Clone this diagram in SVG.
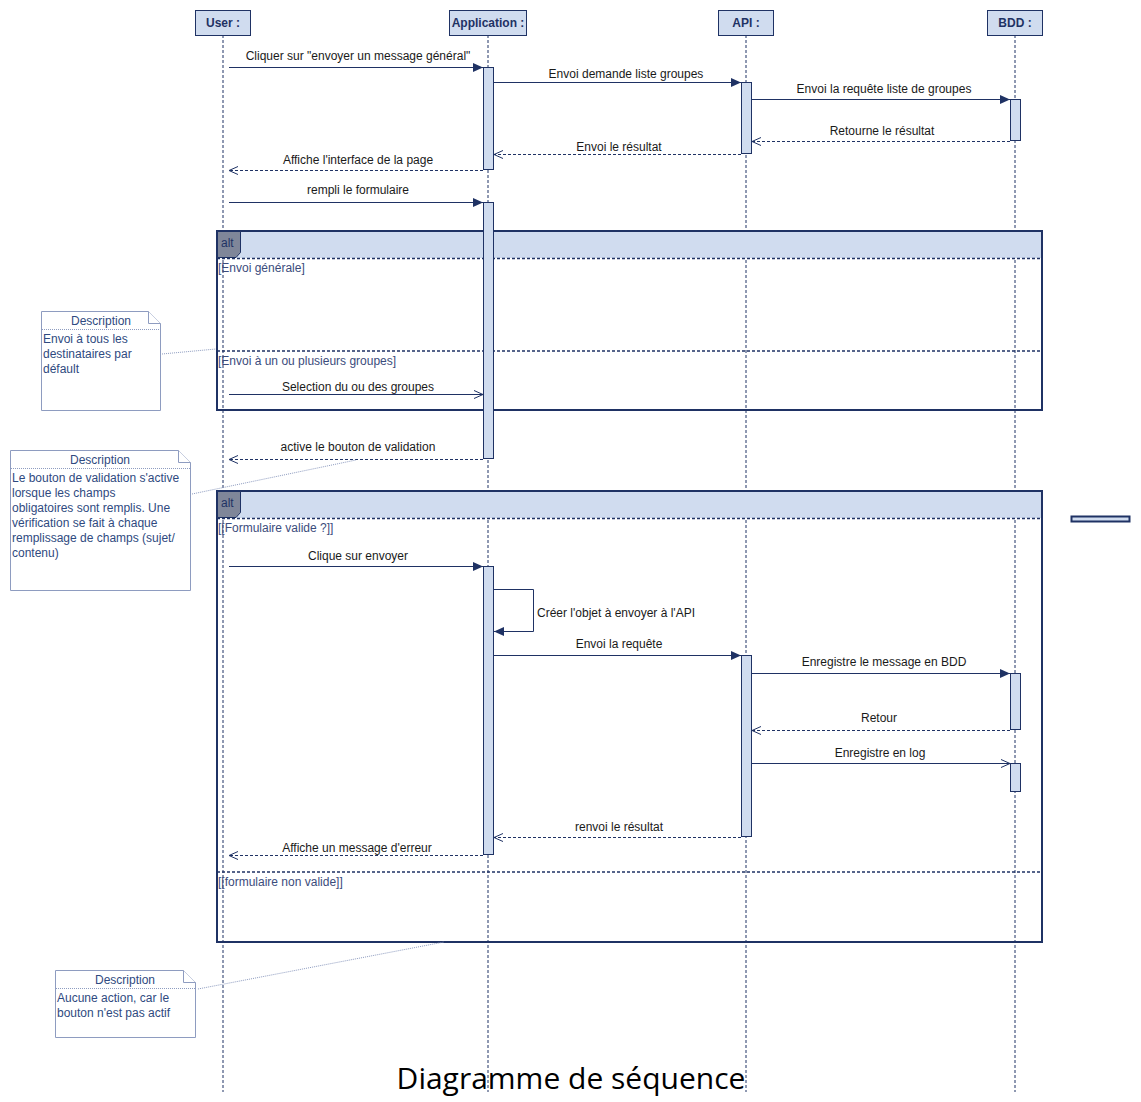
<svg xmlns="http://www.w3.org/2000/svg" width="1141" height="1102" viewBox="0 0 1141 1102">
<style>
text{font-family:"Liberation Sans",Arial,sans-serif;font-size:12px}
.head{fill:#d0dcef;stroke:#1f3264;stroke-width:1}
.hname{font-weight:bold;fill:#1f3264;text-anchor:middle}
.life{stroke:#1f3264;stroke-width:1;stroke-dasharray:3,2;fill:none}
.act{fill:#d0dcef;stroke:#1f3264;stroke-width:1}
.msg{stroke:#1f3264;stroke-width:1;fill:none}
.ret{stroke:#1f3264;stroke-width:1;fill:none;stroke-dasharray:3,2}
.lbl{fill:#1a1a1a;text-anchor:middle}
.frame{fill:none;stroke:#1f3264;stroke-width:2}
.band{fill:#d0dcef;stroke:none}
.sep{stroke:#1f3264;stroke-width:1.5;stroke-dasharray:3,2;fill:none}
.tab{fill:#7f8699;stroke:#1f3264;stroke-width:1}
.guard{fill:#3b4c7c}
.note{fill:#fff;stroke:#8e9cc0;stroke-width:1}
.ndot{stroke:#8e9cc0;stroke-width:1;stroke-dasharray:1,1;fill:none}
.ntitle{fill:#2f4a80;text-anchor:middle}
.ntext{fill:#2f4a80}
</style>
<defs>
<marker id="fill" markerUnits="userSpaceOnUse" markerWidth="11" markerHeight="9" refX="10" refY="4.5" orient="auto"><path d="M0,0 L10,4.5 L0,9 z" fill="#1f3264"/></marker>
<marker id="open" markerUnits="userSpaceOnUse" markerWidth="11" markerHeight="10" refX="10" refY="5" orient="auto"><path d="M1,1 L10,5 L1,9" fill="none" stroke="#1f3264" stroke-width="1"/></marker>
</defs>
<rect width="1141" height="1102" fill="#fff"/>

<g id="lifelines">
<line class="life" x1="223" y1="35" x2="223" y2="1092"/>
<line class="life" x1="488" y1="35" x2="488" y2="1092"/>
<line class="life" x1="746" y1="35" x2="746" y2="1092"/>
<line class="life" x1="1015" y1="35" x2="1015" y2="1092"/>
</g>

<g id="user"><rect class="head" x="195.5" y="10.5" width="55" height="25"/><text class="hname" x="223" y="27">User :</text></g>
<g id="application"><rect class="head" x="449.5" y="10.5" width="77" height="25"/><text class="hname" x="488" y="27">Application :</text></g>
<g id="api"><rect class="head" x="718.5" y="10.5" width="55" height="25"/><text class="hname" x="746" y="27">API :</text></g>
<g id="bdd"><rect class="head" x="987.5" y="10.5" width="55" height="25"/><text class="hname" x="1015" y="27">BDD :</text></g>

<g id="alt1">
<rect class="band" x="217" y="231" width="825" height="27"/>
<rect class="frame" x="217" y="231" width="825" height="179"/>
<line class="sep" x1="217" y1="258.5" x2="1042" y2="258.5"/>
<line class="sep" x1="217" y1="351" x2="1042" y2="351" stroke-width="2"/>
<path class="tab" d="M217.5,231.5 H240.5 V252.5 L236,257.5 H217.5 Z"/>
<text x="221" y="247" fill="#1f3264">alt</text>
<text class="guard" x="218" y="272">[Envoi générale]</text>
<text class="guard" x="218" y="365">[Envoi à un ou plusieurs groupes]</text>
</g>

<g id="alt2">
<rect class="band" x="217" y="491" width="825" height="27"/>
<rect class="frame" x="217" y="491" width="825" height="451"/>
<line class="sep" x1="217" y1="518.5" x2="1042" y2="518.5"/>
<line class="sep" x1="217" y1="872" x2="1042" y2="872" stroke-width="2"/>
<path class="tab" d="M217.5,491.5 H240.5 V512.5 L236,517.5 H217.5 Z"/>
<text x="221" y="507" fill="#1f3264">alt</text>
<text class="guard" x="218" y="532">[[Formulaire valide ?]]</text>
<text class="guard" x="218" y="886">[[formulaire non valide]]</text>
</g>

<g id="activations">
<rect class="act" x="483.5" y="67.5" width="10" height="102"/>
<rect class="act" x="741.5" y="82.5" width="10" height="71"/>
<rect class="act" x="1010.5" y="99.5" width="10" height="41"/>
<rect class="act" x="483.5" y="202.5" width="10" height="256"/>
<rect class="act" x="483.5" y="566.5" width="10" height="288"/>
<rect class="act" x="741.5" y="655.5" width="10" height="181"/>
<rect class="act" x="1010.5" y="673.5" width="10" height="56"/>
<rect class="act" x="1010.5" y="763.5" width="10" height="28"/>
</g>

<g id="connectors">
<line class="msg" x1="229" y1="67.5" x2="483" y2="67.5" marker-end="url(#fill)"/>
<text class="lbl" x="358" y="60">Cliquer sur "envoyer un message général"</text>
<line class="msg" x1="494" y1="82.5" x2="741" y2="82.5" marker-end="url(#fill)"/>
<text class="lbl" x="626" y="78">Envoi demande liste groupes</text>
<line class="msg" x1="752" y1="99.5" x2="1010" y2="99.5" marker-end="url(#fill)"/>
<text class="lbl" x="884" y="93">Envoi la requête liste de groupes</text>
<line class="ret" x1="1010" y1="141.5" x2="752" y2="141.5" marker-end="url(#open)"/>
<text class="lbl" x="882" y="135">Retourne le résultat</text>
<line class="ret" x1="741" y1="154.5" x2="494" y2="154.5" marker-end="url(#open)"/>
<text class="lbl" x="619" y="151">Envoi le résultat</text>
<line class="ret" x1="483" y1="170.5" x2="229" y2="170.5" marker-end="url(#open)"/>
<text class="lbl" x="358" y="164">Affiche l'interface de la page</text>
<line class="msg" x1="229" y1="202.5" x2="483" y2="202.5" marker-end="url(#fill)"/>
<text class="lbl" x="358" y="194">rempli le formulaire</text>
<line class="msg" x1="229" y1="394.5" x2="483" y2="394.5" marker-end="url(#open)"/>
<text class="lbl" x="358" y="391">Selection du ou des groupes</text>
<line class="ret" x1="483" y1="459.5" x2="229" y2="459.5" marker-end="url(#open)"/>
<text class="lbl" x="358" y="451">active le bouton de validation</text>
<line class="msg" x1="229" y1="566.5" x2="483" y2="566.5" marker-end="url(#fill)"/>
<text class="lbl" x="358" y="560">Clique sur envoyer</text>
<polyline class="msg" points="494,589.5 533.5,589.5 533.5,631.5 494,631.5" marker-end="url(#fill)"/>
<text x="537" y="617" fill="#1a1a1a">Créer l'objet à envoyer à l'API</text>
<line class="msg" x1="494" y1="655.5" x2="741" y2="655.5" marker-end="url(#fill)"/>
<text class="lbl" x="619" y="648">Envoi la requête</text>
<line class="msg" x1="752" y1="673.5" x2="1010" y2="673.5" marker-end="url(#fill)"/>
<text class="lbl" x="884" y="666">Enregistre le message en BDD</text>
<line class="ret" x1="1010" y1="730.5" x2="752" y2="730.5" marker-end="url(#open)"/>
<text class="lbl" x="879" y="722">Retour</text>
<line class="msg" x1="752" y1="763.5" x2="1010" y2="763.5" marker-end="url(#open)"/>
<text class="lbl" x="880" y="757">Enregistre en log</text>
<line class="ret" x1="741" y1="837.5" x2="494" y2="837.5" marker-end="url(#open)"/>
<text class="lbl" x="619" y="831">renvoi le résultat</text>
<line class="ret" x1="483" y1="855.5" x2="229" y2="855.5" marker-end="url(#open)"/>
<text class="lbl" x="357" y="852">Affiche un message d'erreur</text>
<line class="ndot" x1="162" y1="354" x2="216" y2="349"/>
<line class="ndot" x1="192" y1="494" x2="356" y2="460"/>
<line class="ndot" x1="198" y1="989" x2="444" y2="942"/>
</g>

<g id="note1">
<path class="note" d="M41.5,311.5 H148.5 L160.5,323.5 V410.5 H41.5 Z"/>
<path class="note" d="M148.5,311.5 V323.5 H160.5" fill="none"/>
<line class="ndot" x1="42" y1="329.5" x2="160" y2="329.5"/>
<text class="ntitle" x="101" y="325">Description</text>
<text class="ntext" x="43" y="343">Envoi à tous les</text>
<text class="ntext" x="43" y="358">destinataires par</text>
<text class="ntext" x="43" y="373">défault</text>
</g>

<g id="note2">
<path class="note" d="M10.5,450.5 H178.5 L190.5,462.5 V590.5 H10.5 Z"/>
<path class="note" d="M178.5,450.5 V462.5 H190.5" fill="none"/>
<line class="ndot" x1="11" y1="468.5" x2="190" y2="468.5"/>
<text class="ntitle" x="100" y="464">Description</text>
<text class="ntext" x="12" y="482">Le bouton de validation s'active</text>
<text class="ntext" x="12" y="497">lorsque les champs</text>
<text class="ntext" x="12" y="512">obligatoires sont remplis. Une</text>
<text class="ntext" x="12" y="527">vérification se fait à chaque</text>
<text class="ntext" x="12" y="542">remplissage de champs (sujet/</text>
<text class="ntext" x="12" y="557">contenu)</text>
</g>

<g id="note3">
<path class="note" d="M55.5,970.5 H183.5 L195.5,982.5 V1037.5 H55.5 Z"/>
<path class="note" d="M183.5,970.5 V982.5 H195.5" fill="none"/>
<line class="ndot" x1="56" y1="988.5" x2="195" y2="988.5"/>
<text class="ntitle" x="125" y="984">Description</text>
<text class="ntext" x="57" y="1002">Aucune action, car le</text>
<text class="ntext" x="57" y="1017">bouton n'est pas actif</text>
</g>

<rect x="1071.5" y="516.5" width="58" height="5" fill="#d0dcef" stroke="#1f3264" stroke-width="2"/>

<text x="571" y="1089" text-anchor="middle" style="font-family:'Open Sans','Liberation Sans',sans-serif;font-size:30px" fill="#000">Diagramme de séquence</text>
</svg>
